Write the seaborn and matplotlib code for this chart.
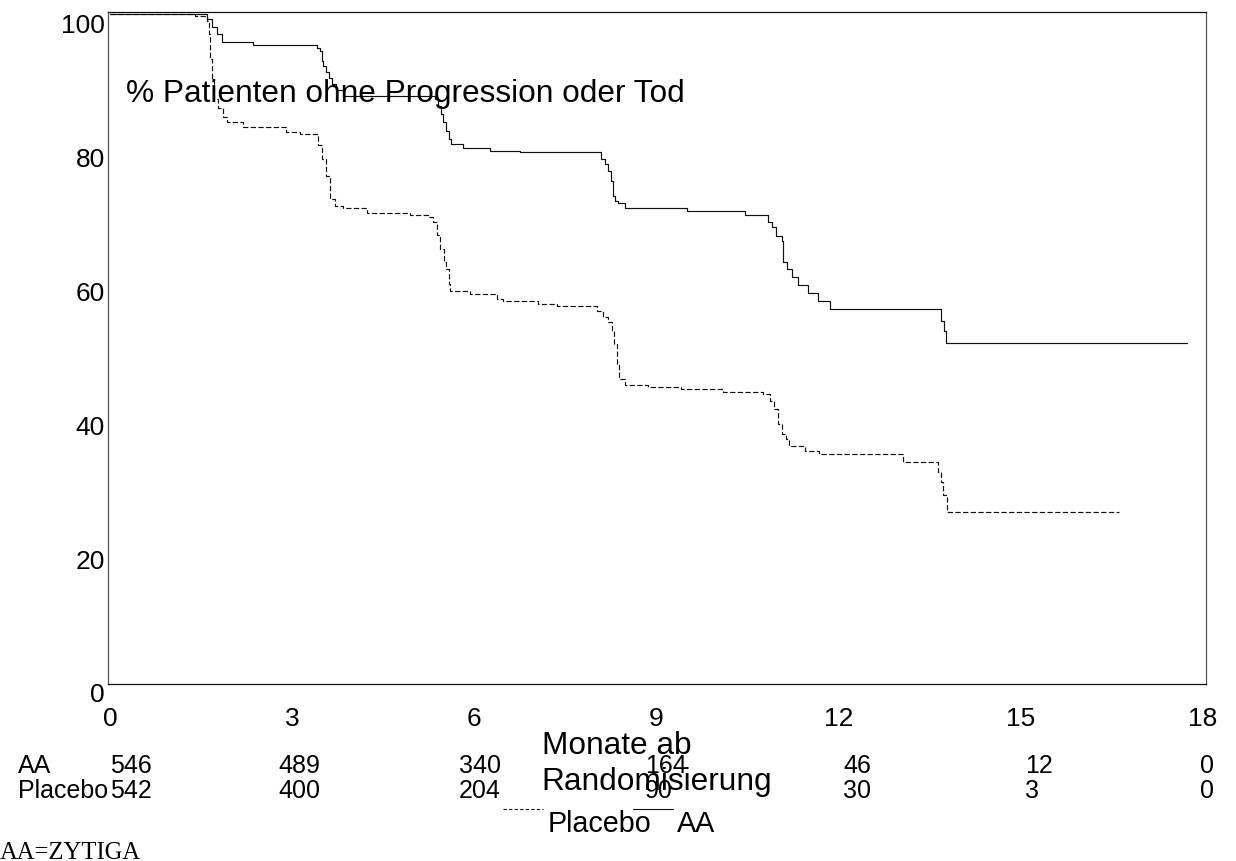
import matplotlib
matplotlib.use("Agg")
import matplotlib.pyplot as plt
import matplotlib.transforms as mtransforms
from matplotlib.lines import Line2D
import pandas as pd
import seaborn as sns

# Kaplan-Meier estimates: month of each event step and % without progression after it
aa_months = [0, 1.60, 1.68, 1.76, 1.84, 2.36, 3.41, 3.46, 3.49, 3.51, 3.55, 3.60, 3.65,
             3.72, 3.84, 5.36, 5.41, 5.45, 5.49, 5.53, 5.58, 5.62, 5.82, 6.26, 6.75,
             8.09, 8.15, 8.20, 8.25, 8.29, 8.32, 8.37, 8.48, 9.51,
             10.46, 10.84, 10.90, 10.97, 11.06, 11.08, 11.15, 11.23, 11.33, 11.49, 11.66,
             11.86, 13.69, 13.74, 13.76, 17.74]
aa_surv = [100, 99.2, 98.1, 97.0, 95.8, 95.4, 95.0, 94.5, 93.0, 92.2, 91.3, 90.4, 89.5,
           88.6, 87.8, 87.3, 86.3, 85.1, 83.9, 82.6, 81.3, 80.6, 80.0, 79.6, 79.4,
           78.4, 77.6, 76.6, 75.1, 72.8, 72.1, 71.8, 71.0, 70.6,
           70.0, 69.0, 68.2, 66.9, 66.1, 63.0, 61.9, 60.7, 59.6, 58.4, 57.2,
           56.0, 54.2, 52.7, 50.9, 50.9]

placebo_months = [0, 1.40, 1.59, 1.63, 1.65, 1.68, 1.71, 1.78, 1.86, 1.92, 2.19, 2.90, 3.13,
                  3.41, 3.43, 3.49, 3.55, 3.62, 3.70, 3.84, 4.23, 4.94, 5.24, 5.32, 5.38,
                  5.43, 5.50, 5.53, 5.58, 5.60, 5.93, 6.38, 6.48, 7.05, 7.36, 8.02, 8.12,
                  8.20, 8.27, 8.30, 8.35, 8.39, 8.48, 8.86, 9.40, 10.10, 10.75, 10.87, 10.94,
                  11.00, 11.07, 11.14, 11.19, 11.45, 11.68, 13.06, 13.64, 13.69, 13.72,
                  13.79, 16.61]
placebo_surv = [100, 99.7, 99.0, 97.0, 93.3, 90.0, 87.3, 86.0, 84.6, 83.9, 83.1, 82.4, 82.1,
                81.8, 80.5, 78.4, 75.8, 72.4, 71.3, 71.0, 70.3, 70.0, 69.7, 69.0, 67.0,
                64.9, 63.0, 61.9, 59.7, 58.7, 58.2, 57.5, 57.2, 56.7, 56.4, 55.7, 54.8,
                54.0, 52.7, 50.7, 47.8, 45.5, 44.6, 44.3, 44.0, 43.6, 43.3, 42.2, 41.0,
                38.8, 37.3, 36.6, 35.5, 34.8, 34.3, 33.1, 31.6, 30.1, 28.2,
                25.7, 25.7]

# Number at risk table
risk_months = [0, 3, 6, 9, 12, 15, 18]
risk_aa = [546, 489, 340, 164, 46, 12, 0]
risk_placebo = [542, 400, 204, 90, 30, 3, 0]
# left edge of each at-risk column, in months
risk_col_left = [0.0, 2.77, 5.75, 8.81, 12.07, 15.07, 17.95]

x_ticks = [0, 3, 6, 9, 12, 15, 18]
y_ticks = [0, 20, 40, 60, 80, 100]

df = pd.concat([
    pd.DataFrame({"Monat": aa_months, "Prozent": aa_surv, "Gruppe": "AA"}),
    pd.DataFrame({"Monat": placebo_months, "Prozent": placebo_surv, "Gruppe": "Placebo"}),
], ignore_index=True)

sns.set_style("white")
plt.rcParams["font.family"] = ["Liberation Sans", "DejaVu Sans"]
plt.rcParams["text.color"] = "black"
plt.rcParams["axes.labelcolor"] = "black"
plt.rcParams["xtick.color"] = "black"
plt.rcParams["ytick.color"] = "black"

W, H = 1236, 862
fig = plt.figure(figsize=(W / 100, H / 100), dpi=100)


def fpx(x, y):
    """Pixel position (from top-left) to figure fraction."""
    return x / W, 1 - y / H


ax = fig.add_axes([108 / W, 1 - 685 / H, (1206 - 108) / W, (685 - 13) / H])

ink = "#111111"
sns.lineplot(data=df, x="Monat", y="Prozent", hue="Gruppe", style="Gruppe",
             palette={"AA": ink, "Placebo": ink},
             dashes={"AA": "", "Placebo": (4.5, 2.0)},
             estimator=None, sort=False, drawstyle="steps-post",
             linewidth=0.85, legend=False, ax=ax)

ax.set_xlim(-0.033, 18.05)
ax.set_ylim(0, 100.3)
ax.set_xticks(x_ticks)
ax.set_xticklabels([str(v) for v in x_ticks])
ax.set_yticks(y_ticks)
ax.set_yticklabels([str(v) for v in y_ticks])

for side in ["left", "right", "top", "bottom"]:
    ax.spines[side].set_visible(True)
    ax.spines[side].set_linewidth(0.9)
    ax.spines[side].set_color("#111111")
ax.spines["left"].set_color("#555555")
ax.spines["right"].set_color("#555555")

ax.tick_params(axis="x", direction="out", length=8, width=0.8, pad=8,
               labelsize=19, colors="#111111", labelcolor="black")
ax.tick_params(axis="y", direction="out", length=2.2, width=0.8, pad=0,
               labelsize=19, colors="#111111", labelcolor="black")

# y tick labels sit slightly below their ticks
shift = mtransforms.ScaledTranslation(0, -8 / 100, fig.dpi_scale_trans)
for lab in ax.get_yticklabels():
    lab.set_transform(lab.get_transform() + shift)

ax.set_xlabel("Monate ab\nRandomisierung", fontsize=22.8, multialignment="left",
              linespacing=1.28, color="black")
ax.xaxis.set_label_coords(0.5, (685 - 731) / 672)
ax.set_ylabel("")

ax.text(*fpx(126, 102), "% Patienten ohne Progression oder Tod", fontsize=22.8,
        ha="left", va="baseline", transform=fig.transFigure, color="black")

# number at risk rows
row_tf = mtransforms.blended_transform_factory(ax.transData, fig.transFigure)
for counts, base_y in [(risk_aa, 773), (risk_placebo, 798)]:
    for xl, n in zip(risk_col_left, counts):
        ax.text(xl, 1 - base_y / H, str(n), transform=row_tf, fontsize=18,
                ha="left", va="baseline", clip_on=False, color="black")
fig.text(*fpx(18, 773), "AA", fontsize=18, ha="left", va="baseline", color="black")
fig.text(*fpx(18, 798), "Placebo", fontsize=18, ha="left", va="baseline", color="black")

# legend
fig.add_artist(Line2D([503 / W, 543 / W], [1 - 810 / H] * 2, transform=fig.transFigure,
                      color=ink, linewidth=0.8, dashes=(3.0, 2.0)))
fig.text(*fpx(548, 832), "Placebo", fontsize=20.7, ha="left", va="baseline", color="black")
fig.add_artist(Line2D([633 / W, 673 / W], [1 - 810 / H] * 2, transform=fig.transFigure,
                      color=ink, linewidth=0.8))
fig.text(*fpx(677, 832), "AA", fontsize=20.7, ha="left", va="baseline", color="black")

fig.text(*fpx(0, 859), "AA=ZYTIGA", fontsize=17.7, ha="left", va="baseline",
         family=["Liberation Serif", "DejaVu Serif"], color="black")

fig.savefig("out.png", dpi=100, facecolor="white")
